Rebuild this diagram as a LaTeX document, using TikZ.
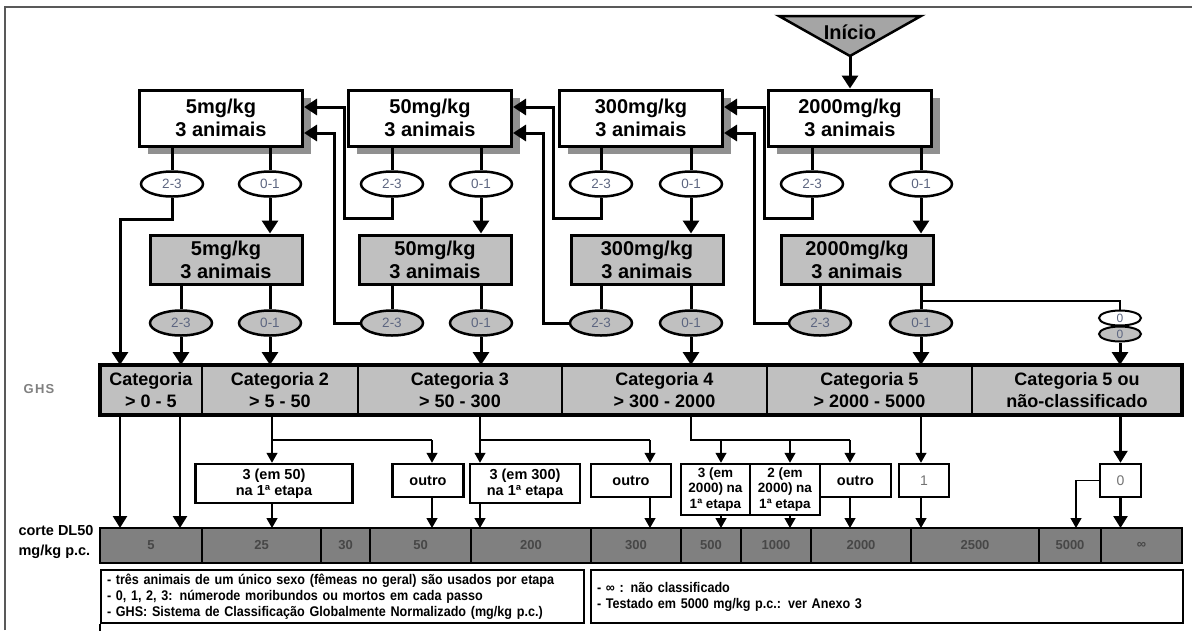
\documentclass[tikz,border=0pt]{standalone}
\usepackage{fontspec}
\setmainfont{Liberation Sans}
\newfontfamily\notefont[FakeStretch=0.9]{Liberation Sans}
\newfontfamily\ghsfont[LetterSpace=10]{Liberation Sans}
\usetikzlibrary{arrows.meta,shapes.geometric,shadows}

\definecolor{boxgray}{HTML}{C0C0C0}
\definecolor{bargray}{HTML}{808080}
\definecolor{shadegray}{HTML}{909090}
\definecolor{startgray}{HTML}{A5A5A5}
\definecolor{tallyink}{HTML}{5C6580}

\tikzset{
  dosebase/.style={draw, line width=3pt, inner sep=0pt, align=center,
    font=\bfseries\fontsize{20}{23}\selectfont},
  dosebox/.style={dosebase, fill=white, minimum width=163pt, minimum height=56pt,
    drop shadow={shadow xshift=8pt, shadow yshift=-8pt, fill=shadegray, opacity=1}},
  retestbox/.style={dosebase, fill=boxgray, minimum width=152pt, minimum height=49pt},
  tally/.style={ellipse, draw, line width=2.5pt, fill=white, inner sep=0pt,
    minimum width=62pt, minimum height=25pt, text=tallyink, font=\fontsize{13.5}{13.5}\selectfont},
  retally/.style={tally, fill=boxgray},
  zero/.style={tally, line width=2pt, minimum width=42pt, minimum height=15pt,
    font=\fontsize{12}{12}\selectfont},
  catcell/.style={draw, line width=2.5pt, fill=boxgray, inner sep=0pt, outer sep=0pt,
    minimum height=50pt, align=center, font=\bfseries\fontsize{18}{22}\selectfont},
  cutcell/.style={draw, line width=2pt, fill=bargray, inner sep=0pt, outer sep=0pt,
    minimum height=35pt, text=black!72, font=\bfseries\fontsize{13}{13}\selectfont},
  outcome/.style={draw, line width=2.5pt, fill=white, inner sep=0pt, align=center,
    font=\bfseries\fontsize{14.5}{16.5}\selectfont},
  note/.style={draw, line width=2pt, anchor=north west, inner xsep=6pt, inner ysep=0pt,
    minimum height=53pt, align=left, font=\notefont\bfseries\fontsize{14}{16}\selectfont},
  link/.style={line width=3pt},
  flow/.style={line width=3pt, -{Triangle[width=16pt,length=13pt]}},
  midflow/.style={line width=2.5pt, -{Triangle[width=14pt,length=12pt]}},
  thinline/.style={line width=1.3pt},
  thinflow/.style={thinline, -{Triangle[width=11pt,length=10pt]}},
}

\begin{document}
\begin{tikzpicture}[x=1pt, y=-1pt]
	\useasboundingbox (0,0) rectangle (1192,630);
	\draw[black!65, line width=1.5pt] (5,630) -- (5,7) -- (1192,7);

	% GHS categories
	\foreach \n/\xa/\xb/\txt in {1/100/202/{Categoria\\> 0 - 5}, 2/202/358/{Categoria 2\\> 5 - 50},
		3/358/562/{Categoria 3\\> 50 - 300}, 4/562/767/{Categoria 4\\> 300 - 2000},
		5/767/972/{Categoria 5\\> 2000 - 5000}, 6/972/1182/{Categoria 5 ou\\não-classificado}}
		{\node[catcell, minimum width={(\xb-\xa)*1pt}] (c\n) at ({(\xa+\xb)/2},390) {\txt};}
	\draw[line width=3.5pt] (c1.north west) rectangle (c6.south east);
	\node[text=black!50, font=\ghsfont\bfseries\fontsize{13}{13}\selectfont] (ghs) at (39,389) {GHS};

	% LD50 cut-off values
	\foreach \n/\xa/\xb/\txt in {1/100/202/5, 2/202/321/25, 3/321/370/30, 4/370/471/50,
		5/471/591/200, 6/591/681/300, 7/681/741/500, 8/741/811/1000, 9/811/911/2000,
		10/911/1039/2500, 11/1039/1101/5000, 12/1101/1182/∞}
		{\node[cutcell, minimum width={(\xb-\xa)*1pt}] (d\n) at ({(\xa+\xb)/2},545.5) {\txt};}
	\draw[line width=2.5pt] (d1.north west) rectangle (d12.south east);
	\node[anchor=west, align=left, font=\bfseries\fontsize{14.5}{20}\selectfont] (corte) at (15,542) {corte DL50\\mg/kg p.c.};

	% start
	\draw[line width=2.5pt, fill=startgray] (779,16) -- (921,16) -- (850,56) -- cycle;
	\node[font=\bfseries\fontsize{20}{23}\selectfont] (start) at (850,32) {Início};
	\coordinate (apex) at (850,56);

	% dose steps
	\foreach \mg/\xw/\xg/\xa/\xb/\xr in {5/221/226/172/270/181, 50/430/435/392/481/392,
		300/641/647/601/691/601, 2000/850/857/812/921/820} {
		\node[dosebox] (w\mg) at (\xw,118) {\mg mg/kg\\3 animais};
		\node[retestbox] (g\mg) at (\xg,259.5) {\mg mg/kg\\3 animais};
		\node[tally] (w\mg-a) at (\xa,184) {2-3};
		\node[tally] (w\mg-b) at (\xb,184) {0-1};
		\node[retally] (g\mg-a) at (\xr,323) {2-3};
		\node[retally] (g\mg-b) at (\xb,323) {0-1};
		\draw[link] (w\mg-a |- w\mg.south) -- (w\mg-a.north);
		\draw[link] (w\mg-b |- w\mg.south) -- (w\mg-b.north);
		\draw[flow] (w\mg-b.south) -- (w\mg-b |- g\mg.north);
		\draw[link] (g\mg-a |- g\mg.south) -- (g\mg-a.north);
		\draw[link] (g\mg-b |- g\mg.south) -- (g\mg-b.north);
	}
	\draw[flow] (apex) -- (apex |- w2000.north);

	% back to the lower dose
	\foreach \from/\to in {50/5, 300/50, 2000/300} {
		\draw[flow] (w\from-a.south) -- ++(0,21) -| ([xshift=40pt,yshift=11pt]w\to.east) -- ([yshift=11pt]w\to.east);
		\draw[flow] (g\from-a.west) -| ([xshift=30pt,yshift=-15pt]w\to.east) -- ([yshift=-15pt]w\to.east);
	}

	% into the categories
	\draw[flow] (w5-a.south) -- ++(0,22) -| (c1.north -| 120,0);
	\draw[flow] (g5-a.south) -- (g5-a |- c1.north);
	\draw[flow] (g5-b.south) -- (g5-b |- c2.north);
	\draw[flow] (g50-b.south) -- (g50-b |- c3.north);
	\draw[flow] (g300-b.south) -- (g300-b |- c4.north);
	\draw[flow] (g2000-b.south) -- (g2000-b |- c5.north);
	\node[zero] (z1) at (1120,318) {0};
	\node[zero, fill=boxgray] (z2) at (1120,334) {0};
	\coordinate (split) at (921,301);
	\draw[line width=2pt] (split) -| (z1.north);
	\draw[flow] (z2.south) -- (z2 |- c6.north);

	% outcomes of the first step
	\node[outcome, minimum width=157pt, minimum height=39pt] (r1) at (274,483.5) {3 (em 50)\\na 1ª etapa};
	\node[outcome, minimum width=71pt, minimum height=33pt] (o1) at (428,480.5) {outro};
	\node[outcome, minimum width=110pt, minimum height=39pt] (r2) at (525,483.5) {3 (em 300)\\na 1ª etapa};
	\node[outcome, minimum width=80pt, minimum height=33pt] (o2) at (631,480.5) {outro};
	\node[outcome, minimum width=69pt, minimum height=51pt, font=\bfseries\fontsize{13.5}{15.5}\selectfont] (r3) at (715.5,489.5) {3 (em\\2000) na\\1ª etapa};
	\node[outcome, minimum width=70pt, minimum height=51pt, font=\bfseries\fontsize{13.5}{15.5}\selectfont] (r4) at (785,489.5) {2 (em\\2000) na\\1ª etapa};
	\node[outcome, minimum width=71pt, minimum height=33pt] (o3) at (855.5,480.5) {outro};
	\node[outcome, minimum width=50pt, minimum height=33pt, text=black!55, font=\fontsize{14}{16}\selectfont] (b1) at (924,480.5) {1};
	\node[outcome, minimum width=41pt, minimum height=33pt, text=black!55, font=\fontsize{14}{16}\selectfont] (b0) at (1120.5,480.5) {0};

	\draw[midflow] (c1.south -| 120,0) -- (d1.north -| 120,0);
	\draw[midflow] (c1.south -| 180,0) -- (d1.north -| 180,0);
	\draw[thinline] (c2.south -| 272,0) -- (272,440) -- (432,440);
	\draw[thinline] (c3.south -| 480,0) -- (480,440) -- (650,440);
	\draw[thinline] (c4.south -| 691,0) -- (691,440) -- (850,440);
	\foreach \b/\x in {r1/272, o1/432, r2/480, o2/650, r3/721, r4/790, o3/850}
		{\draw[thinflow] (\x,440) -- (\b.north -| \x,0);}
	\foreach \b/\x/\c in {r1/272/d2, o1/432/d4, r2/480/d5, o2/650/d6, r3/721/d7,
		r4/790/d8, o3/850/d9, b1/921/d10}
		{\draw[thinflow] (\b.south -| \x,0) -- (\c.north -| \x,0);}
	\draw[thinflow] (c5.south -| 921,0) -- (b1.north -| 921,0);
	\draw[midflow] (c6.south -| b0) -- (b0.north);
	\draw[midflow] (b0.south) -- (b0 |- d12.north);
	\draw[thinflow] (b0.west) -| (d11.north -| 1076,0);

	% notes
	\node[note, text width=471pt] (note1) at (100,569) {- três animais de um único sexo (fêmeas no geral) são usados por etapa\\- 0, 1, 2, 3: númerode moribundos ou mortos em cada passo\\- GHS: Sistema de Classificação Globalmente Normalizado (mg/kg p.c.)};
	\node[note, text width=580pt] (note2) at (590,569) {- ∞ : não classificado\\- Testado em 5000 mg/kg p.c.: ver Anexo 3};
	\draw[line width=2pt] (note1.south west) -- ++(0,8);
\end{tikzpicture}
\end{document}
